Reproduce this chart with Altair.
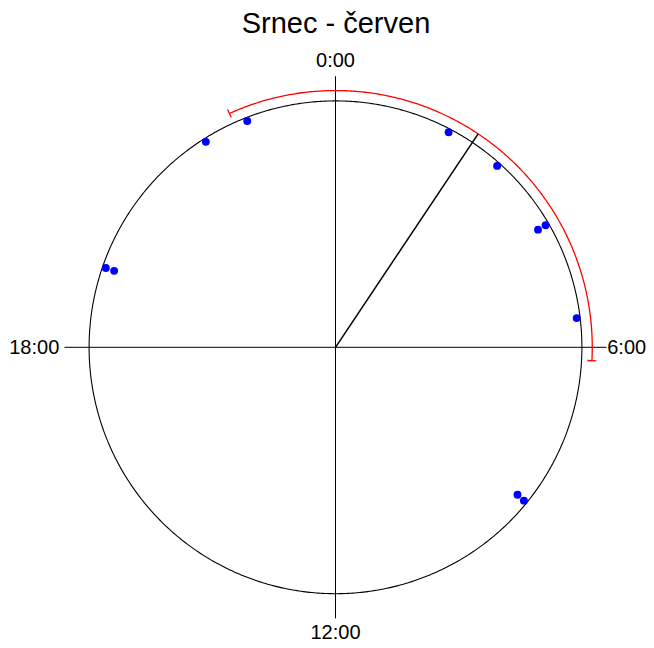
import altair as alt
import pandas as pd
import numpy as np

# ---- data ----
title_text = "Srnec - červen"
point_hours = [22.58, 21.85, 1.85, 2.78, 3.99, 3.99, 5.54, 19.27, 19.27, 8.60, 8.61]
point_stack = [0, 0, 0, 0, 0, 1, 0, 0, 1, 1, 0]
mean_hour = 2.25
ci_low_hour = 22.373
ci_high_hour = 6.20
hour_labels = ["0:00", "6:00", "12:00", "18:00"]
label_hours = [0, 6, 12, 18]

# ---- layout constants ----
W, H = 638, 636
CX, CY, K = 327.5, 339.3, 246.4   # centre in plot px, px per unit radius
xdom = [-CX / K, (W - CX) / K]
ydom = [-(H - CY) / K, CY / K]
R_PT, R_STACK = 0.986, 0.0355
R_CI = 1.042
TICK_HALF = 0.018
R_CROSS = 1.1
R_LAB = 1.121


def ang(h):
    return np.asarray(h, dtype=float) / 24.0 * 2 * np.pi


def px(h, r):
    return r * np.sin(ang(h))


def py(h, r):
    return r * np.cos(ang(h))


xs = alt.Scale(domain=xdom, nice=False, zero=False)
ys = alt.Scale(domain=ydom, nice=False, zero=False)


def X(f):
    return alt.X(f, type="quantitative", scale=xs, axis=None)


def Y(f):
    return alt.Y(f, type="quantitative", scale=ys, axis=None)


# circle
t = np.linspace(0, 24, 721)
circle_df = pd.DataFrame({"x": px(t, 1.0), "y": py(t, 1.0), "o": np.arange(len(t))})
circle = alt.Chart(circle_df).mark_line(color="black", strokeWidth=1.1).encode(
    x=X("x"), y=Y("y"), order="o:Q")

# cross lines
cross_df = pd.DataFrame({"x": [-R_CROSS, 0.0], "x2": [R_CROSS, 0.0],
                         "y": [0.0, -R_CROSS], "y2": [0.0, R_CROSS]})
cross = alt.Chart(cross_df).mark_rule(color="black", strokeWidth=1).encode(
    x=X("x"), x2="x2", y=Y("y"), y2="y2")

# mean direction
mean_df = pd.DataFrame({"x": [0.0], "y": [0.0],
                        "x2": [float(px(mean_hour, R_CI))], "y2": [float(py(mean_hour, R_CI))]})
mean_line = alt.Chart(mean_df).mark_rule(color="black", strokeWidth=1.5).encode(
    x=X("x"), x2="x2", y=Y("y"), y2="y2")

# confidence arc
hi = ci_high_hour + 24 if ci_high_hour < ci_low_hour else ci_high_hour
ta = np.linspace(ci_low_hour, hi, 300)
arc_df = pd.DataFrame({"x": px(ta, R_CI), "y": py(ta, R_CI), "o": np.arange(len(ta))})
arc = alt.Chart(arc_df).mark_line(color="#FF0000", strokeWidth=1.3).encode(
    x=X("x"), y=Y("y"), order="o:Q")

ends = [ci_low_hour, ci_high_hour]
tick_df = pd.DataFrame({
    "x": [float(px(h, R_CI - TICK_HALF)) for h in ends],
    "y": [float(py(h, R_CI - TICK_HALF)) for h in ends],
    "x2": [float(px(h, R_CI + TICK_HALF)) for h in ends],
    "y2": [float(py(h, R_CI + TICK_HALF)) for h in ends],
})
ticks = alt.Chart(tick_df).mark_rule(color="#FF0000", strokeWidth=1.3).encode(
    x=X("x"), x2="x2", y=Y("y"), y2="y2")

# points
rads = [R_PT - R_STACK * s for s in point_stack]
pts_df = pd.DataFrame({"x": px(point_hours, np.array(rads)), "y": py(point_hours, np.array(rads))})
points = alt.Chart(pts_df).mark_circle(color="#0000FF", size=62, opacity=1).encode(
    x=X("x"), y=Y("y"))

# labels
lab_df = pd.DataFrame({"label": hour_labels,
                       "x": px(label_hours, R_LAB), "y": py(label_hours, R_LAB)})
font = "Liberation Sans, Arial, Helvetica, sans-serif"
lab_top = alt.Chart(lab_df[lab_df.label == "0:00"]).mark_text(
    font=font, fontSize=20, align="center", baseline="alphabetic", dy=-4.4, color="black"
).encode(x=X("x"), y=Y("y"), text="label")
lab_bot = alt.Chart(lab_df[lab_df.label == "12:00"]).mark_text(
    font=font, fontSize=20, align="center", baseline="alphabetic", dy=15.8, color="black"
).encode(x=X("x"), y=Y("y"), text="label")
lab_right = alt.Chart(lab_df[lab_df.label == "6:00"]).mark_text(
    font=font, fontSize=20, align="left", baseline="alphabetic", dx=-4.5, dy=7, color="black"
).encode(x=X("x"), y=Y("y"), text="label")
lab_left = alt.Chart(lab_df[lab_df.label == "18:00"]).mark_text(
    font=font, fontSize=20, align="right", baseline="alphabetic", dy=7, color="black"
).encode(x=X("x"), y=Y("y"), text="label")

title_df = pd.DataFrame({"label": [title_text], "x": [0.002], "y": [1.2756]})
title = alt.Chart(title_df).mark_text(
    font=font, fontSize=29, align="center", baseline="alphabetic", color="black"
).encode(x=X("x"), y=Y("y"), text="label")

chart = alt.layer(circle, cross, arc, ticks, mean_line, points,
                  lab_top, lab_bot, lab_right, lab_left, title).properties(
    width=W, height=H, padding=0,
    autosize=alt.AutoSizeParams(type="none"),
).configure_view(stroke=None)

chart.save("out.html", embed_options={"renderer": "svg", "actions": False})
